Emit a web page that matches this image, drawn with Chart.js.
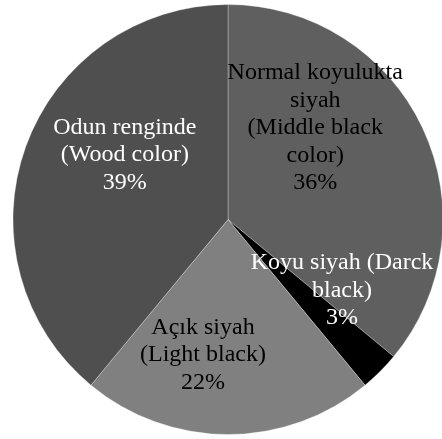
<!DOCTYPE html>
<html>
<head>
<meta charset="utf-8">
<script src="https://cdn.jsdelivr.net/npm/chart.js@4"></script>
<style>
    html, body { margin: 0; padding: 0; background: #fff; overflow: hidden; }
    canvas { display: block; }
</style>
</head>
<body>
<canvas id="chart" width="456" height="439"></canvas>
<script>
const categories = [
    ['Normal koyulukta', 'siyah', '(Middle black', 'color)'],
    ['Koyu siyah (Darck', 'black)'],
    ['Açık siyah', '(Light black)'],
    ['Odun renginde', '(Wood color)']
]
const shares = [36, 3, 22, 39]
const sliceColors = ['#5f5f5f', '#000000', '#808080', '#4f4f4f']
const labelColors = ['#000000', '#ffffff', '#000000', '#ffffff']
// nudges from each slice's mid point, in px
const labelShift = [[-10, -46], [38, -5], [-25, 28], [-2, -28]]

const sliceLabels = {
    id: 'sliceLabels',
    afterDatasetsDraw(chart) {
        const ctx = chart.ctx
        const total = shares.reduce((a, b) => a + b, 0)
        const lineHeight = 27.5
        ctx.save()
        ctx.font = '24px "Liberation Serif", "Times New Roman", serif'
        ctx.textAlign = 'center'
        ctx.textBaseline = 'middle'
        chart.getDatasetMeta(0).data.forEach((arc, i) => {
            const p = arc.getCenterPoint()
            const lines = categories[i].concat([Math.round(shares[i] / total * 100) + '%'])
            const cx = p.x + labelShift[i][0]
            const cy = p.y + labelShift[i][1]
            const top = cy - (lines.length - 1) * lineHeight / 2
            ctx.fillStyle = labelColors[i]
            lines.forEach((line, k) => {
                ctx.fillText(line, cx, top + k * lineHeight)
            })
        })
        ctx.restore()
    }
}

new Chart(document.getElementById('chart'), {
    type: 'pie',
    data: {
        labels: categories.map(c => c.join(' ')),
        datasets: [{
            data: shares,
            backgroundColor: sliceColors,
            borderColor: 'rgba(255, 255, 255, 0.3)',
            borderWidth: 1
        }]
    },
    options: {
        responsive: false,
        animation: false,
        layout: { padding: { top: 4, bottom: 4 } },
        plugins: {
            legend: { display: false },
            tooltip: { enabled: false }
        }
    },
    plugins: [sliceLabels]
})
</script>
</body>
</html>
